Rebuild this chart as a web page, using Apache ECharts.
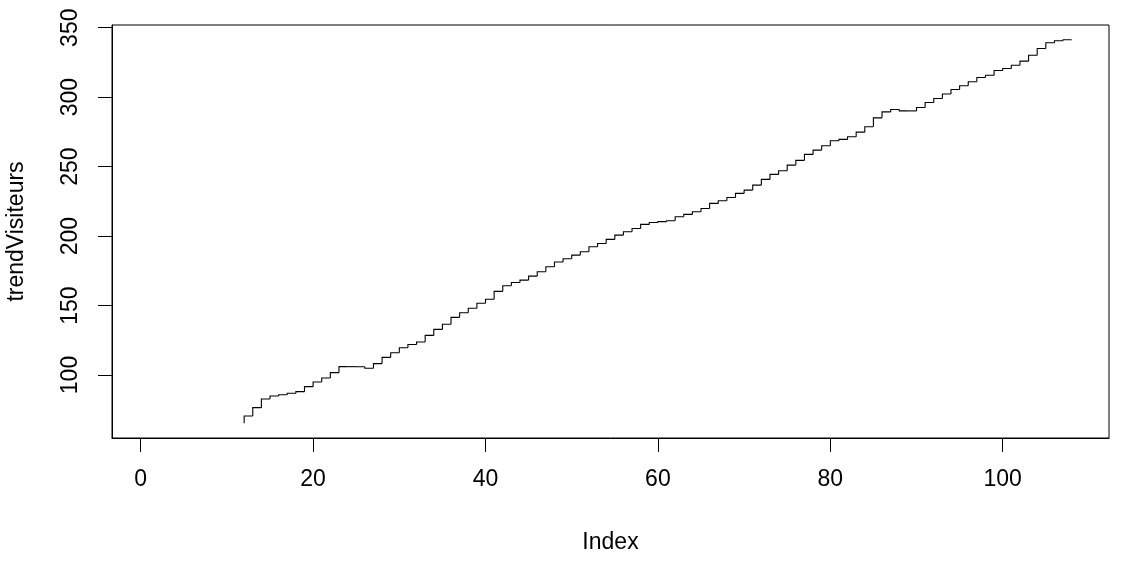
<!DOCTYPE html>
<html>
<head>
<meta charset="utf-8">
<script src="https://cdn.jsdelivr.net/npm/echarts@6/dist/echarts.min.js"></script>
<style>
html,body{margin:0;padding:0;background:#fff;}
#chart{width:1121px;height:564px;}
</style>
</head>
<body>
<div id="chart"></div>
<script>
// Index of the first non-missing value
const startIndex = 12;
// trendVisiteurs values for Index 12 .. 108
const trendVisiteurs = [
  65.3, 70.5, 76.5, 82.7, 84.9, 85.8, 86.8, 88.0, 91.6, 95.0,
  97.8, 101.7, 106.0, 106.0, 105.9, 104.9, 108.2, 112.7, 116.0, 119.6,
  122.0, 123.7, 128.5, 132.8, 136.5, 141.5, 144.8, 148.0, 151.6, 154.5,
  160.2, 164.2, 166.6, 168.3, 171.2, 174.3, 177.9, 181.3, 183.7, 186.3,
  188.7, 192.3, 194.7, 197.6, 200.7, 203.1, 205.5, 208.4, 209.8, 210.4,
  211.0, 213.9, 215.6, 217.5, 219.9, 223.5, 225.4, 227.8, 230.7, 233.1,
  236.7, 240.8, 244.4, 247.0, 251.1, 254.5, 258.8, 261.9, 265.0, 268.6,
  269.6, 271.5, 274.8, 278.7, 285.1, 289.4, 291.1, 290.1, 290.1, 292.5,
  296.2, 299.0, 302.3, 305.5, 308.2, 311.1, 314.2, 315.8, 319.2, 320.6,
  323.0, 325.9, 330.2, 335.0, 339.2, 340.6, 341.3
];
const xTicks = [0, 20, 40, 60, 80, 100];
const yTicks = [100, 150, 200, 250, 300, 350];

// Each step: vertical at index i from value i to value i+1, then horizontal to index i+1 (R type "S")
const stepData = [];
for (let k = 0; k < trendVisiteurs.length - 1; k++) {
  stepData.push([startIndex + k, trendVisiteurs[k], startIndex + k + 1, trendVisiteurs[k + 1]]);
}

const font = 'Liberation Sans, Arial, sans-serif';
const chart = echarts.init(document.getElementById('chart'), null, {renderer: 'canvas'});
chart.setOption({
  animation: false,
  backgroundColor: '#fff',
  grid: {
    left: 112, right: 12, top: 25, bottom: 126,
    containLabel: false,
    outerBoundsMode: 'none',
    show: true, borderColor: '#000', borderWidth: 1, backgroundColor: 'transparent'
  },
  xAxis: {
    type: 'value',
    min: -3.33, max: 112.33,
    name: 'Index',
    nameLocation: 'middle',
    nameGap: 93,
    nameTextStyle: {fontFamily: font, fontSize: 23, color: '#000'},
    axisLine: {show: true, onZero: false, lineStyle: {color: '#000', width: 1}},
    axisTick: {show: true, inside: false, length: 14, customValues: xTicks, lineStyle: {color: '#000'}},
    axisLabel: {show: true, customValues: xTicks, margin: 30, fontFamily: font, fontSize: 23, color: '#000'},
    splitLine: {show: false}
  },
  yAxis: {
    type: 'value',
    min: 54.64, max: 351.94,
    name: 'trendVisiteurs',
    nameLocation: 'middle',
    nameGap: 84,
    nameTextStyle: {fontFamily: font, fontSize: 23, color: '#000'},
    axisLine: {show: true, onZero: false, lineStyle: {color: '#000', width: 1}},
    axisTick: {show: true, inside: false, length: 14, customValues: yTicks, lineStyle: {color: '#000'}},
    axisLabel: {show: true, customValues: yTicks, rotate: 90, margin: 30, fontFamily: font, fontSize: 23, color: '#000'},
    splitLine: {show: false}
  },
  series: [{
    type: 'custom',
    data: stepData,
    encode: {x: [0, 2], y: [1, 3]},
    silent: true,
    clip: true,
    renderItem: function (params, api) {
      const p0 = api.coord([api.value(0), api.value(1)]);
      const p1 = api.coord([api.value(0), api.value(3)]);
      const p2 = api.coord([api.value(2), api.value(3)]);
      return {
        type: 'polyline',
        shape: {points: [p0, p1, p2]},
        style: {stroke: '#000', lineWidth: 1.1, fill: null}
      };
    }
  }]
});
</script>
</body>
</html>
